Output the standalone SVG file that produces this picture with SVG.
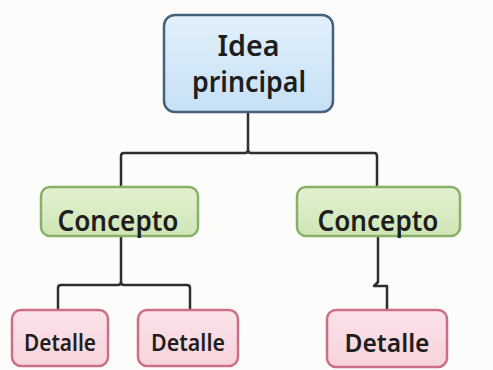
<svg xmlns="http://www.w3.org/2000/svg" width="493" height="370" viewBox="0 0 493 370">
<defs>
<linearGradient id="gBlue" x1="0" y1="0" x2="0" y2="1"><stop offset="0" stop-color="#e2f0fb"/><stop offset="1" stop-color="#c6e0f5"/></linearGradient>
<linearGradient id="gGreen" x1="0" y1="0" x2="0" y2="1"><stop offset="0" stop-color="#e2f1d0"/><stop offset="1" stop-color="#cfe6b6"/></linearGradient>
<linearGradient id="gPink" x1="0" y1="0" x2="0" y2="1"><stop offset="0" stop-color="#fbe3e9"/><stop offset="1" stop-color="#f7d3dc"/></linearGradient>
</defs>
<style>
.t{font-family:"Noto Sans","DejaVu Sans",sans-serif;font-weight:600;fill:#1e1e1e;text-anchor:middle}
.blue{fill:url(#gBlue);stroke:#46617d;stroke-width:2.5}
.green{fill:url(#gGreen);stroke:#88b06a;stroke-width:2.5}
.pink{fill:url(#gPink);stroke:#cc6f86;stroke-width:2.5}
.c{fill:none;stroke:#2e2e2e;stroke-width:2.5;stroke-linejoin:round;stroke-linecap:round}
</style>
<rect width="493" height="370" fill="#fcfcfa"/>
<g id="connectors">
<path class="c" d="M248 112 V150 Q248 153 251 153 H374 Q377 153 377 156 V187"/>
<path class="c" d="M248 150 Q248 153 245 153 H124 Q121 153 121 156 V187"/>
<path class="c" d="M121 236 V282 Q121 285 124 285 H187 Q190 285 190 288 V310"/>
<path class="c" d="M121 282 Q121 285 118 285 H61 Q58 285 58 288 V310"/>
<path class="c" d="M378 236 V282 L374 286 H387 V310"/>
</g>
<g id="idea">
<rect class="blue" x="164" y="15" width="169" height="97" rx="11"/>
<text class="t" x="248.5" y="56" font-size="28" textLength="62" lengthAdjust="spacingAndGlyphs">Idea</text>
<text class="t" x="249" y="92" font-size="28" textLength="114" lengthAdjust="spacingAndGlyphs">principal</text>
</g>
<g id="concepto1">
<rect class="green" x="41" y="187" width="157" height="49" rx="9"/>
<text class="t" x="118" y="231" font-size="28" textLength="121" lengthAdjust="spacingAndGlyphs">Concepto</text>
</g>
<g id="concepto2">
<rect class="green" x="297" y="187" width="163" height="49" rx="9"/>
<text class="t" x="378" y="231" font-size="28" textLength="121" lengthAdjust="spacingAndGlyphs">Concepto</text>
</g>
<g id="detalle1">
<rect class="pink" x="12" y="310" width="96" height="56" rx="9"/>
<text class="t" x="60" y="351" font-size="24" textLength="72" lengthAdjust="spacingAndGlyphs">Detalle</text>
</g>
<g id="detalle2">
<rect class="pink" x="138" y="310" width="100" height="56" rx="9"/>
<text class="t" x="188" y="351" font-size="24" textLength="74" lengthAdjust="spacingAndGlyphs">Detalle</text>
</g>
<g id="detalle3">
<rect class="pink" x="327" y="310" width="120" height="57" rx="9"/>
<text class="t" x="387" y="352" font-size="26" textLength="85" lengthAdjust="spacingAndGlyphs">Detalle</text>
</g>
</svg>
